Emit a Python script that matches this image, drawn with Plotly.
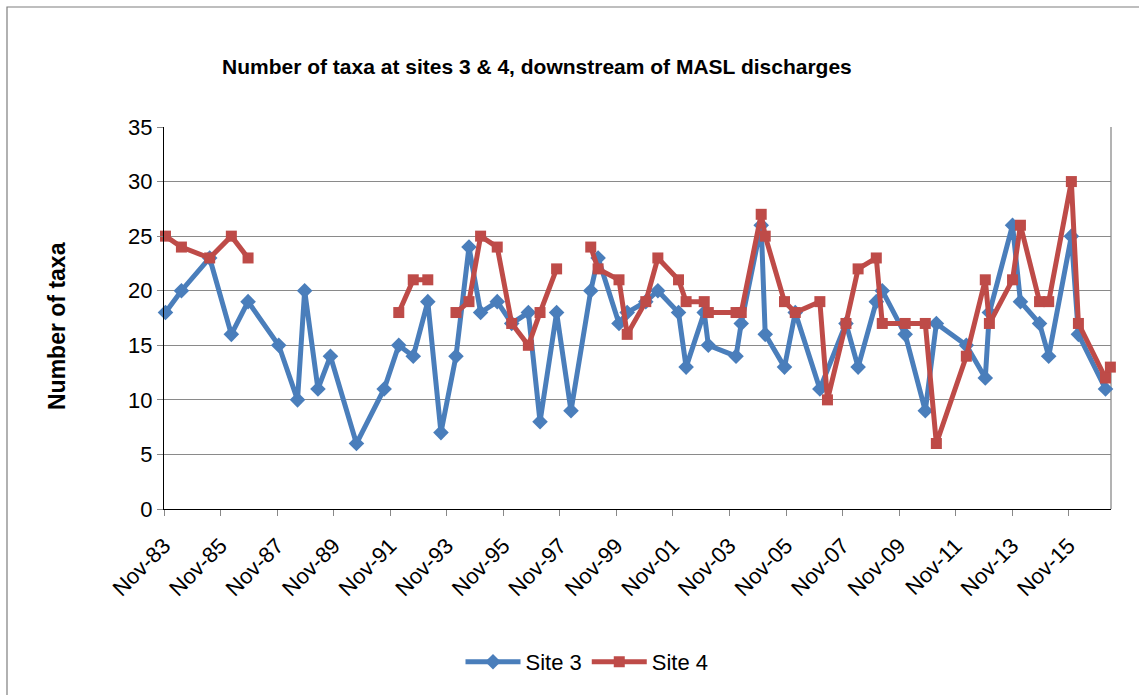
import plotly.graph_objects as go

# ---- data ----
site3_dates = [
    "1983-11-20", "1984-06-13", "1985-06-13", "1986-03-20", "1986-10-22",
    "1987-11-22", "1988-07-22", "1988-10-22", "1989-04-12", "1989-09-20",
    "1990-08-22", "1991-08-15", "1992-02-20", "1992-08-25", "1993-03-01",
    "1993-08-18", "1994-02-28", "1994-08-15", "1995-01-12", "1995-08-15",
    "1996-02-18", "1996-09-20", "1997-02-18", "1997-09-20", "1998-03-25",
    "1998-12-05", "1999-03-10", "1999-12-05", "2000-03-20", "2000-11-15",
    "2001-04-20", "2002-01-12", "2002-04-20", "2002-12-10", "2003-02-01",
    "2004-01-25", "2004-04-01", "2004-12-15", "2005-02-05", "2005-10-12",
    "2006-02-28", "2007-01-12", "2007-12-15", "2008-05-20", "2009-01-10",
    "2009-03-28", "2010-01-18", "2010-10-05", "2011-02-25", "2012-03-18",
    "2012-11-18", "2013-01-10", "2013-11-05", "2014-02-15", "2014-10-20",
    "2015-02-15", "2015-12-05", "2016-03-05", "2017-02-18",
]
site3_values = [
    18, 20, 23, 16, 19,
    15, 10, 20, 11, 14,
    6, 11, 15, 14, 19,
    7, 14, 24, 18, 19,
    17, 18, 8, 18, 9,
    20, 23, 17, 18, 19,
    20, 18, 13, 18, 15,
    14, 17, 26, 16, 13,
    18, 11, 17, 13, 19,
    20, 16, 9, 17, 15,
    12, 18, 26, 19, 17,
    14, 25, 16, 11,
]

# None entries mark the breaks (missing samples) in the Site 4 line
site4_dates = [
    "1983-11-20", "1984-06-13", "1985-06-13", "1986-03-20", "1986-10-22",
    "1990-01-01",
    "1992-02-20", "1992-08-25", "1993-03-01",
    "1993-08-18",
    "1994-02-28", "1994-08-15", "1995-01-12", "1995-08-15", "1996-02-18",
    "1996-09-20", "1997-02-18", "1997-09-20",
    "1998-03-25",
    "1998-12-05", "1999-03-10", "1999-12-05", "2000-03-20", "2000-11-15",
    "2001-04-20", "2002-01-12", "2002-04-20", "2002-12-10", "2003-02-01",
    "2004-01-25", "2004-04-01", "2004-12-15", "2005-02-05", "2005-10-12",
    "2006-02-28", "2007-01-12", "2007-04-20", "2007-12-15", "2008-05-20",
    "2009-01-10", "2009-03-28", "2010-01-18", "2010-10-05", "2011-02-25",
    "2012-03-18", "2012-11-18", "2013-01-10", "2013-11-05", "2014-02-15",
    "2014-10-20", "2015-02-15", "2015-12-05", "2016-03-05", "2017-02-18",
    "2017-04-22",
]
site4_values = [
    25, 24, 23, 25, 23,
    None,
    18, 21, 21,
    None,
    18, 19, 25, 24, 17,
    15, 18, 22,
    None,
    24, 22, 21, 16, 19,
    23, 21, 19, 19, 18,
    18, 18, 27, 25, 19,
    18, 19, 10, 17, 22,
    23, 17, 17, 17, 6,
    14, 21, 17, 21, 26,
    19, 19, 30, 17, 12,
    13,
]

x_range = ["1983-11-01", "2017-04-30"]
y_ticks = [0, 5, 10, 15, 20, 25, 30, 35]

title_text = "Number of taxa at sites 3 & 4, downstream of MASL discharges"
y_title = "Number of taxa"

BLUE = "#4A7EBB"
RED = "#BE4B48"
FONT = "Liberation Sans, Arial, sans-serif"

fig = go.Figure()
fig.add_trace(go.Scatter(
    x=site3_dates, y=site3_values, name="Site 3", mode="lines+markers",
    line=dict(color=BLUE, width=5),
    marker=dict(symbol="diamond", size=12, color=BLUE),
    cliponaxis=False,
))
fig.add_trace(go.Scatter(
    x=site4_dates, y=site4_values, name="Site 4", mode="lines+markers",
    line=dict(color=RED, width=5),
    marker=dict(symbol="square", size=11, color=RED),
    connectgaps=False, cliponaxis=False,
))

W, H = 1139, 695
L, R, T, B = 164, 28, 127, 186
pw, ph = W - L - R, H - T - B

def px(xp):
    return (xp - L) / pw

def py(yp):
    return (H - B - yp) / ph

fig.update_layout(
    width=W, height=H,
    margin=dict(l=L, r=R, t=T, b=B),
    paper_bgcolor="white", plot_bgcolor="white",
    font=dict(family=FONT, color="black"),
    showlegend=True,
    legend=dict(orientation="h", x=px(587), y=py(662), xanchor="center",
                yanchor="middle", font=dict(size=22, family=FONT),
                itemwidth=55, bgcolor="rgba(0,0,0,0)"),
    xaxis=dict(
        type="date", range=x_range,
        tick0="1983-11-01", dtick="M24", tickformat="%b-%y",
        tickangle=-45, tickfont=dict(size=22, family=FONT),
        ticklabelstandoff=8,
        showgrid=False, showline=True, linecolor="black", linewidth=1.2,
        ticks="outside", ticklen=6, tickcolor="#888888",
        zeroline=False,
    ),
    yaxis=dict(
        range=[0, 35], tickvals=y_ticks,
        tickfont=dict(size=22, family=FONT),
        showgrid=True, gridcolor="#8A8A8A", gridwidth=1,
        showline=True, linecolor="black", linewidth=1.2,
        ticks="outside", ticklen=6, tickcolor="#888888",
        zeroline=False,
    ),
    annotations=[
        dict(text="<b>" + title_text + "</b>", xref="paper", yref="paper",
             x=px(537), y=py(67), xanchor="center", yanchor="middle",
             showarrow=False, font=dict(size=21, family=FONT)),
        dict(text="<b>" + y_title + "</b>", xref="paper", yref="paper",
             x=px(57), y=py(326), xanchor="center", yanchor="middle",
             textangle=-90, showarrow=False, font=dict(size=23, family=FONT)),
    ],
    shapes=[
        # outer chart border
        dict(type="rect", xref="paper", yref="paper",
             x0=px(7), x1=px(1160), y0=py(720), y1=py(7),
             line=dict(color="#7F7F7F", width=1.2), layer="below"),
        # right edge of plot area
        dict(type="line", xref="paper", yref="paper",
             x0=1, x1=1, y0=0, y1=1,
             line=dict(color="#9A9A9A", width=1.5), layer="below"),
    ],
)

fig.write_html("out.html")
